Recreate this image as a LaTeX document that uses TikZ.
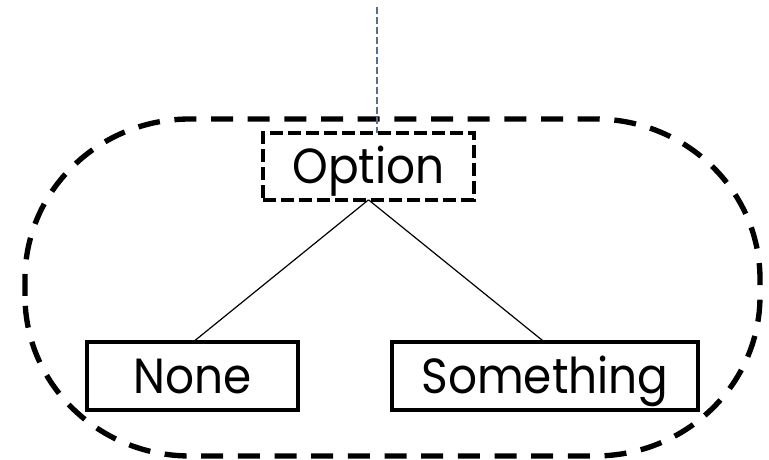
\documentclass[tikz,border=0pt]{standalone}
\usepackage{fontspec}
\setmainfont[FakeStretch=0.92]{Poppins}
\definecolor{linkblue}{RGB}{84,112,140}
\begin{document}
\begin{tikzpicture}[x=0.75pt,y=0.75pt,
  every node/.style={font=\fontsize{37}{42}\selectfont, inner sep=0pt, outer sep=0pt,
                     text height=25.8pt, text depth=0pt},
  optbox/.style={draw, line width=3pt, dash pattern=on 9.75pt off 3.75pt,
                 minimum width=158pt, minimum height=50pt},
  leafbox/.style={draw, line width=3pt, minimum height=51pt},
  branch/.style={draw, line width=0.9pt},
  bigdash/.style={line width=4pt, dash pattern=on 16.5pt off 11pt},
  feed/.style={draw=linkblue, line width=1.3pt, dash pattern=on 5pt off 2.5pt}]
  \useasboundingbox (0,0) rectangle (769,460);

  % enclosing dashed outline with elliptical corners
  \draw[bigdash] (25,164) -- (25,181)
     arc[start angle=180, end angle=90, x radius=165, y radius=160]
     -- (595,341)
     arc[start angle=90, end angle=0, x radius=165, y radius=160]
     -- (760,164)
     arc[start angle=0, end angle=-90, x radius=165, y radius=160]
     -- (190,4)
     arc[start angle=270, end angle=180, x radius=165, y radius=160]
     -- cycle;

  % nodes
  \node[optbox] (opt) at (368.5,293.5) {Option};
  \node[leafbox, minimum width=158pt] (none) at (192.5,83.5) {None};
  \node[leafbox, minimum width=229.5pt] (some) at (545,83.5) {Something};

  % branches
  \draw[branch] (opt.south) -- (none.north);
  \draw[branch] (opt.south) -- (some.north);

  % incoming link from above
  \coordinate (feedtop) at (377,453);
  \draw[feed] (feedtop) -- (feedtop |- opt.north);
\end{tikzpicture}
\end{document}
